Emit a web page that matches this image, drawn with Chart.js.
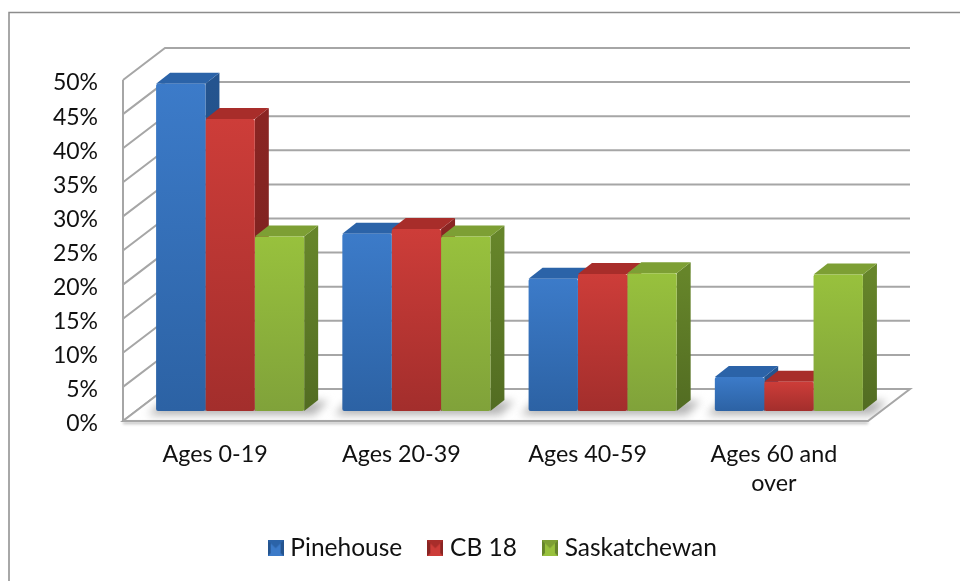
<!DOCTYPE html>
<html>
<head>
<meta charset="utf-8">
<style>
  html, body { margin: 0; padding: 0; background: #fff; }
  #wrap { width: 960px; height: 581px; }
</style>
<script src="https://cdn.jsdelivr.net/npm/chart.js@4"></script>
</head>
<body>
<div id="wrap"><canvas id="chart" width="960" height="581"></canvas></div>
<script>
// ========== Data ==========
const categories = ['Ages 0-19', 'Ages 20-39', 'Ages 40-59', ['Ages 60 and', 'over']];
const pinehouse = [48, 26, 19.4, 5];
const cb18 = [42.8, 26.7, 20.1, 4.3];
const saskatchewan = [25.6, 25.6, 20.2, 20];
const seriesNames = ['Pinehouse', 'CB 18', 'Saskatchewan'];

// top, bottom of the front face, top face, side face
const palettes = [
  { hi: '#3c7bc9', lo: '#2c62a4', top: '#2b63a8', side: '#24548f', sideLo: '#1f4877' },
  { hi: '#cd3d39', lo: '#a32e2c', top: '#a82d2a', side: '#8a2523', sideLo: '#73201e' },
  { hi: '#98c13d', lo: '#80a23a', top: '#7d9f34', side: '#66852a', sideLo: '#526c22' }
];

// ========== 3D geometry ==========
const wallDx = 28, wallDy = 22;   // bar plane -> back wall
const frontDx = 14, frontDy = 10; // bar plane -> front edge
const barDx = 14, barDy = 11;     // bar depth
const gridColor = '#a6a6a6';

function poly(ctx, pts) {
  ctx.beginPath();
  pts.forEach((p, i) => i ? ctx.lineTo(p[0], p[1]) : ctx.moveTo(p[0], p[1]));
  ctx.closePath();
}

function makeMarker(p) {
  const c = document.createElement('canvas');
  c.width = 16; c.height = 16;
  const g = c.getContext('2d');
  g.fillStyle = p.lo; g.fillRect(0, 0, 16, 16);
  g.fillStyle = p.side; poly(g, [[0, 0], [8, 8], [0, 16]]); g.fill();
  poly(g, [[16, 0], [8, 8], [16, 16]]); g.fill();
  g.fillStyle = p.top; poly(g, [[0, 0], [16, 0], [8, 8]]); g.fill();
  g.fillStyle = p.hi; poly(g, [[0, 16], [16, 16], [8, 8]]); g.fill();
  g.fillStyle = p.hi; poly(g, [[3, 3], [13, 3], [13, 13], [3, 13]]); g.fill();
  g.fillStyle = p.top; poly(g, [[3, 3], [13, 3], [8, 8]]); g.fill();
  return c;
}
const markers = palettes.map(makeMarker);

function faceFill(i) {
  return function (c) {
    const p = palettes[i];
    if (c.raw === undefined || !c.chart.chartArea) return p.lo;
    const yS = c.chart.scales.y;
    const g = c.chart.ctx.createLinearGradient(0, yS.getPixelForValue(c.raw), 0, yS.getPixelForValue(0));
    g.addColorStop(0, p.hi);
    g.addColorStop(1, p.lo);
    return g;
  };
}

// ========== Frame, wall, floor and bar depth ==========
const box3d = {
  id: 'box3d',
  afterLayout(chart) {
    // legend sits off-centre in the original
    const l = chart.legend;
    l.left -= 14.5; l.right -= 14.5;
    const h = l.bottom - l.top;
    l.top = 550 - 30.5 - 14;
    l.bottom = l.top + h;
  },
  beforeDatasetsDraw(chart) {
    const { ctx, scales: { x, y } } = chart;
    const y0 = y.getPixelForValue(0);
    const fl = x.left - frontDx, fr = x.right - frontDx;
    const bl = x.left + wallDx, br = x.right + wallDx;

    ctx.save();
    // chart frame, only top and left fall inside the crop
    ctx.strokeStyle = '#8c8c8c';
    ctx.lineWidth = 1.5;
    ctx.beginPath();
    ctx.moveTo(960, 12.5);
    ctx.lineTo(9, 12.5);
    ctx.lineTo(9, 581);
    ctx.stroke();

    // back wall + side wall grid
    ctx.strokeStyle = gridColor;
    ctx.lineWidth = 2;
    y.ticks.forEach(t => {
      const py = y.getPixelForValue(t.value);
      ctx.beginPath();
      ctx.moveTo(fl, py + frontDy);
      ctx.lineTo(bl, py - wallDy);
      ctx.lineTo(br, py - wallDy);
      ctx.stroke();
    });
    ctx.beginPath();
    ctx.moveTo(fl, y.getPixelForValue(50) + frontDy);
    ctx.lineTo(fl, y0 + frontDy);
    ctx.stroke();

    // floor
    const floor = [[fl, y0 + frontDy], [fr, y0 + frontDy], [br, y0 - wallDy], [bl, y0 - wallDy]];
    poly(ctx, floor);
    ctx.fillStyle = '#fff';
    ctx.fill();

    // soft shadows of the bar groups on the floor
    ctx.save();
    poly(ctx, floor);
    ctx.clip();
    ctx.filter = 'blur(4px)';
    ctx.fillStyle = '#b4b4b4';
    categories.forEach((c, i) => {
      const a = chart.getDatasetMeta(0).data[i];
      const b = chart.getDatasetMeta(2).data[i];
      const l = a.x - a.width / 2 - 8, r = b.x + b.width / 2 + barDx + 10;
      poly(ctx, [[l, y0 + 4], [r - 14, y0 + 4], [r, y0 - 10], [l + 14, y0 - 10]]);
      ctx.fill();
    });
    ctx.restore();

    poly(ctx, floor);
    ctx.stroke();
    ctx.save();
    ctx.shadowColor = 'rgba(0,0,0,0.3)';
    ctx.shadowBlur = 3;
    ctx.shadowOffsetY = 2;
    ctx.beginPath();
    ctx.moveTo(fl, y0 + frontDy);
    ctx.lineTo(fr, y0 + frontDy);
    ctx.stroke();
    ctx.restore();

    // top and side faces, read from the bar elements
    chart.data.datasets.forEach((ds, i) => {
      chart.getDatasetMeta(i).data.forEach(bar => {
        const l = bar.x - bar.width / 2, r = bar.x + bar.width / 2;
        const t = bar.y, b = bar.base;
        const p = palettes[i];
        const g = ctx.createLinearGradient(0, t, 0, b);
        g.addColorStop(0, p.side);
        g.addColorStop(1, p.sideLo);
        ctx.fillStyle = g;
        poly(ctx, [[r, t], [r + barDx, t - barDy], [r + barDx, b - barDy], [r, b]]);
        ctx.fill();
        ctx.fillStyle = p.top;
        poly(ctx, [[l, t], [l + barDx, t - barDy], [r + barDx, t - barDy], [r, t]]);
        ctx.fill();
      });
    });
    ctx.restore();
  }
};

// ========== Chart ==========
const mkDs = (i, values) => ({
  label: seriesNames[i],
  data: values,
  backgroundColor: faceFill(i),
  borderRadius: 2,
  borderSkipped: false,
  categoryPercentage: 0.795,
  barPercentage: 1
});

const fontFamily = 'Lato, sans-serif';

new Chart(document.getElementById('chart'), {
  type: 'bar',
  data: {
    labels: categories,
    datasets: [mkDs(0, pinehouse), mkDs(1, cb18), mkDs(2, saskatchewan)]
  },
  options: {
    responsive: false,
    animation: false,
    layout: { padding: { left: 26, right: 78, top: 70, bottom: 0 } },
    plugins: {
      tooltip: { enabled: false },
      legend: {
        position: 'bottom',
        fullSize: false,
        labels: {
          color: '#111',
          font: { family: fontFamily, size: 24.5 },
          usePointStyle: true,
          pointStyleWidth: 5,
          padding: 30.5,
          generateLabels: () => seriesNames.map((n, i) => ({
            text: n,
            pointStyle: markers[i],
            fontColor: '#111',
            datasetIndex: i
          }))
        }
      }
    },
    scales: {
      x: {
        grid: { display: false, drawTicks: false },
        border: { display: false },
        afterFit(s) { s.height = 105; },
        ticks: {
          color: '#111',
          font: { family: fontFamily, size: 23.3, lineHeight: 1.25 },
          padding: 29,
          labelOffset: -15,
          autoSkip: false,
          maxRotation: 0
        }
      },
      y: {
        min: 0,
        max: 50,
        grid: { display: false, drawTicks: false },
        border: { display: false },
        afterFit(s) { s.width = 111; },
        ticks: {
          color: '#111',
          font: { family: fontFamily, size: 23 },
          stepSize: 5,
          padding: 39,
          labelOffset: 13,
          callback: v => v + '%'
        }
      }
    }
  },
  plugins: [box3d]
});
</script>
</body>
</html>
